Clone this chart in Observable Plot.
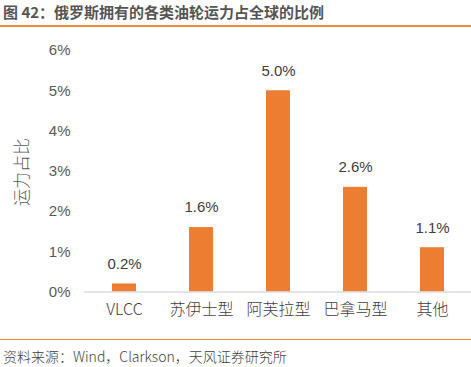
<!DOCTYPE html>
<html><head><meta charset="utf-8">
<script src="https://cdn.jsdelivr.net/npm/d3@7"></script>
<script src="https://cdn.jsdelivr.net/npm/@observablehq/plot@0.6"></script>
<style>
body{margin:0;width:471px;height:367px;background:#fff;position:relative;overflow:hidden;font-family:"Noto Sans CJK SC",sans-serif;}
#title{position:absolute;left:3px;top:2px;font-size:15px;font-weight:bold;color:#555;white-space:nowrap;line-height:20px;}
#topline{position:absolute;left:0;top:25px;width:471px;height:2px;background:#EE8A3A;}
#chart{position:absolute;left:0;top:30px;}
#botline{position:absolute;left:0;top:339px;width:471px;height:1px;background:#EE8A3A;}
#source{position:absolute;left:3px;top:346px;font-size:14px;font-weight:300;color:#404040;white-space:nowrap;line-height:20px;}
#ylab{position:absolute;left:20px;top:172px;transform:translate(-50%,-50%) rotate(-90deg);font-size:17px;font-weight:300;color:#595959;white-space:nowrap;}
</style></head>
<body>
<div id="title">图 42：俄罗斯拥有的各类油轮运力占全球的比例</div>
<div id="topline"></div>
<div id="ylab">运力占比</div>
<div id="chart"></div>
<div id="botline"></div>
<div id="source">资料来源：Wind，Clarkson，天风证券研究所</div>
<script>
const categories = ["VLCC", "苏伊士型", "阿芙拉型", "巴拿马型", "其他"];
const values = [0.002, 0.016, 0.050, 0.026, 0.011];
const labels = ["0.2%", "1.6%", "5.0%", "2.6%", "1.1%"];
const yTicks = [0, 0.01, 0.02, 0.03, 0.04, 0.05, 0.06];

const data = categories.map((c, i) => ({cat: c, v: values[i], label: labels[i]}));
const numFont = "'Liberation Sans',Arial,sans-serif";

const chart = Plot.plot({
  width: 471,
  height: 300,
  marginLeft: 84,
  marginRight: 0,
  marginTop: 20,
  marginBottom: 38.5,
  style: {fontFamily: "'Noto Sans CJK SC', sans-serif", background: "transparent"},
  x: {domain: categories, paddingInner: 0.69, paddingOuter: 0.345, label: null},
  y: {domain: [0, 0.06], label: null},
  marks: [
    Plot.barY(data, {x: "cat", y: "v", fill: "#ED7D31"}),
    Plot.ruleY([0], {stroke: "#D9D9D9", strokeWidth: 1.5}),
    Plot.text(data, {x: "cat", y: "v", text: "label", dy: -20, lineAnchor: "middle", fill: "#404040", fontSize: 15, fontFamily: numFont}),
    Plot.axisY({ticks: yTicks, tickSize: 0, tickPadding: 14, tickFormat: d => Math.round(d * 100) + "%", fontSize: 15, fill: "#595959", fontFamily: numFont, label: null}),
    Plot.axisX({tickSize: 0, tickPadding: 12, fontSize: 16, fill: "#404040", fontWeight: 300, label: null})
  ]
});
document.getElementById("chart").appendChild(chart);
</script>
</body></html>
